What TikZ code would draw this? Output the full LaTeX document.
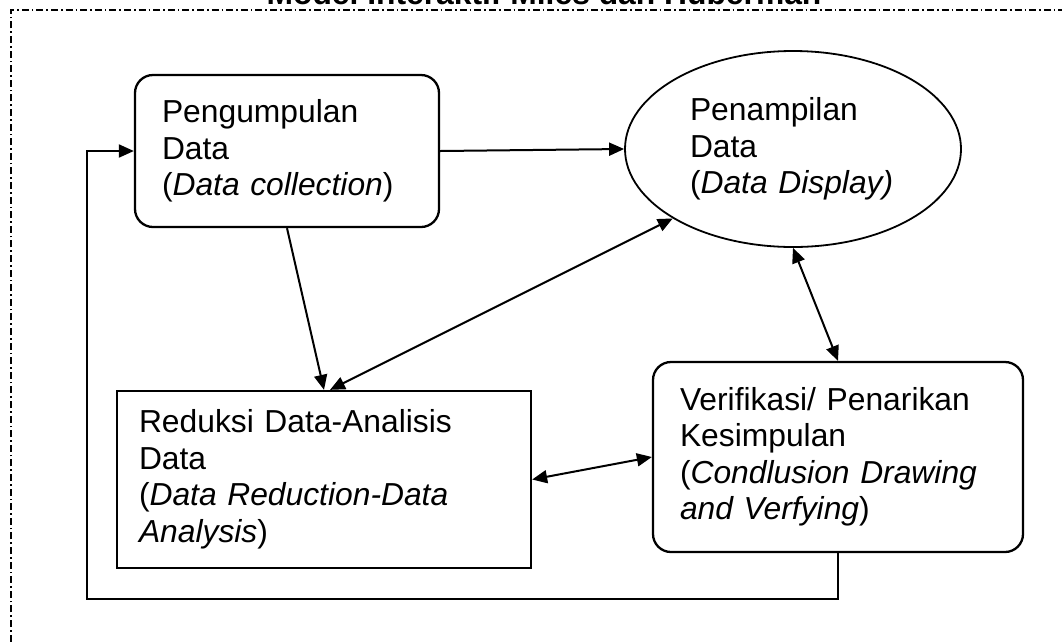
\documentclass[tikz,border=0pt]{standalone}
\usepackage{fontspec}
\setmainfont{Liberation Sans}
\usetikzlibrary{arrows.meta,shapes.geometric,calc}
\tikzset{
  txt/.style={font=\fontsize{31.8pt}{36.5pt}\selectfont, align=left, inner sep=0pt},
  rbox/.style={txt, draw, line width=2.3pt, rounded corners=18pt},
  sbox/.style={txt, draw, line width=2.3pt},
  ellbox/.style={txt, draw, ellipse, line width=1.8pt},
  tip/.style={},
  arr/.style={line width=2pt, -{Triangle[length=15pt,width=13pt]}},
  darr/.style={line width=2pt, {Triangle[length=15pt,width=13pt]}-{Triangle[length=15pt,width=13pt]}},
  frame/.style={line width=1.6pt, dash pattern=on 7pt off 3pt on 1.6pt off 3pt}
}
\begin{document}
\begin{tikzpicture}[x=1pt,y=-1pt]
\useasboundingbox (0,0) rectangle (1062,641);
\draw[frame] (11,700) -- (11,10) -- (1100,10);
\node[font=\fontsize{31.8pt}{36.5pt}\selectfont\bfseries, anchor=base, inner sep=0pt] (title) at (544,4) {Model Interaktif Miles dan Huberman};
\node[rbox, minimum width=304pt, minimum height=152pt, text width=250pt] (box1) at (287,151)
  {Pengumpulan\\Data\\(\textit{Data collection})};
\node[ellbox, minimum width=336pt, minimum height=196pt, text width=206pt] (ell) at (793,149)
  {Penampilan\\Data\\(\textit{Data Display)}};
\node[sbox, minimum width=414pt, minimum height=177pt, text width=370pt] (red) at (324,479.5)
  {Reduksi Data-Analisis\\Data\\(\textit{Data Reduction-Data}\\\textit{Analysis})};
\node[rbox, minimum width=370pt, minimum height=190pt, text width=316pt] (ver) at (838,457)
  {Verifikasi/ Penarikan\\Kesimpulan\\(\textit{Condlusion Drawing}\\\textit{and Verfying})};
\coordinate (fb) at (87,599);
\draw[arr] (box1.east) -- (ell.west);
\draw[arr] (box1.south) -- (red.north);
\draw[darr] ($(red.north)+(6,0)$) -- (ell.210);
\draw[darr] (ell.south) -- (ver.north);
\draw[darr] (red.east) -- (ver.west);
\draw[arr] (ver.south) |- (fb) |- (box1.west);
\end{tikzpicture}
\end{document}
